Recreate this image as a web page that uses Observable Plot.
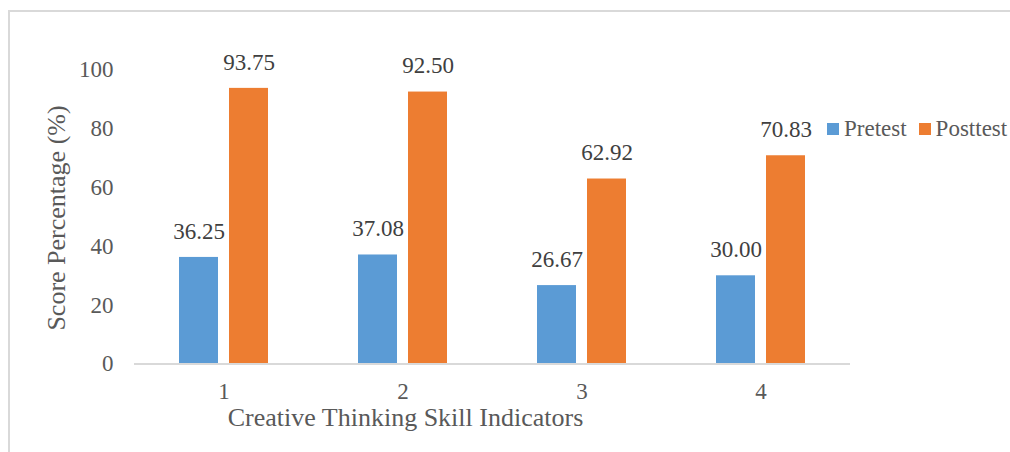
<!DOCTYPE html>
<html>
<head>
<meta charset="utf-8">
<script src="https://cdn.jsdelivr.net/npm/d3@7"></script>
<script src="https://cdn.jsdelivr.net/npm/@observablehq/plot@0.6"></script>
<style>
  html, body { margin: 0; padding: 0; background: #fff; }
  #wrap { position: relative; width: 1010px; height: 452px; overflow: hidden; background: #fff; }
  #border { position: absolute; left: 8px; top: 10px; width: 1100px; height: 600px; border: 2px solid #d9d9d9; box-sizing: border-box; }
  #chart { position: absolute; left: 0; top: 0; }
  #wrap svg text, #wrap svg tspan { font-family: "Liberation Serif", serif !important; }
  #legend { position: absolute; left: 827px; top: 116px; width: 400px; white-space: nowrap; }
  #legend div { flex-wrap: nowrap !important; margin: 0 !important; min-height: 0 !important; }
  #legend .lg-swatch { margin-right: 12px !important; }
  #legend .lg-swatch > svg { margin-right: 5px !important; }
  #legend, #legend * { font-family: "Liberation Serif", serif !important; font-size: 23px !important; color: #595959 !important; }
</style>
</head>
<body>
<div id="wrap">
  <div id="border"></div>
  <div id="chart"></div>
  <div id="legend"></div>
</div>
<script>
const categories = ["1", "2", "3", "4"];
const series = ["Pretest", "Posttest"];
const pretest = [36.25, 37.08, 26.67, 30.00];
const posttest = [93.75, 92.50, 62.92, 70.83];
const yTicks = [0, 20, 40, 60, 80, 100];
const colors = ["#5B9BD5", "#ED7D31"];
const yTitle = "Score Percentage (%)";
const xTitle = "Creative Thinking Skill Indicators";

const data = [];
categories.forEach((c, i) => {
  data.push({cat: c, series: series[0], value: pretest[i]});
  data.push({cat: c, series: series[1], value: posttest[i]});
});

const font = "Liberation Serif, serif";

const plot = Plot.plot({
  width: 1010,
  height: 452,
  marginLeft: 133,
  marginRight: 159,
  marginTop: 69.5,
  marginBottom: 88.5,
  style: {fontFamily: font, fontSize: "23px", color: "#595959", background: "transparent", overflow: "visible"},
  fx: {domain: categories, padding: 0, label: null, axis: null},
  x: {domain: series, paddingInner: 0.2157, paddingOuter: 0.8676, axis: null},
  y: {domain: [0, 100], label: null, axis: null},
  color: {domain: series, range: colors},
  marks: [
    Plot.barY(data, {fx: "cat", x: "series", y: "value", fill: "series"}),
    Plot.text(data, {fx: "cat", x: "series", y: "value", text: d => d.value.toFixed(2), dy: -26, fill: "#404040", fontSize: 23, fontFamily: font}),
    Plot.ruleY([0], {stroke: "#d9d9d9", strokeWidth: 2}),
    Plot.axisY({ticks: yTicks, tickSize: 0, tickPadding: 21, label: null, fill: "#595959", fontSize: 23, fontFamily: font}),
    Plot.axisFx({anchor: "bottom", tickSize: 0, tickPadding: 19, label: null, fill: "#595959", fontSize: 23, fontFamily: font})
  ]
});
document.getElementById("chart").appendChild(plot);

const svg = d3.select(plot);
svg.append("text")
  .attr("x", 405.5).attr("y", 426)
  .attr("text-anchor", "middle")
  .attr("fill", "#595959")
  .style("font-family", font).style("font-size", "26px")
  .text(xTitle);
svg.append("text")
  .attr("transform", "translate(65,218) rotate(-90)")
  .attr("text-anchor", "middle")
  .attr("fill", "#595959")
  .style("font-family", font).style("font-size", "26px")
  .text(yTitle);

const legend = Plot.legend({
  color: {domain: series, range: colors},
  legend: "swatches",
  swatchSize: 12,
  className: "lg"
});
document.getElementById("legend").appendChild(legend);
</script>
</body>
</html>
